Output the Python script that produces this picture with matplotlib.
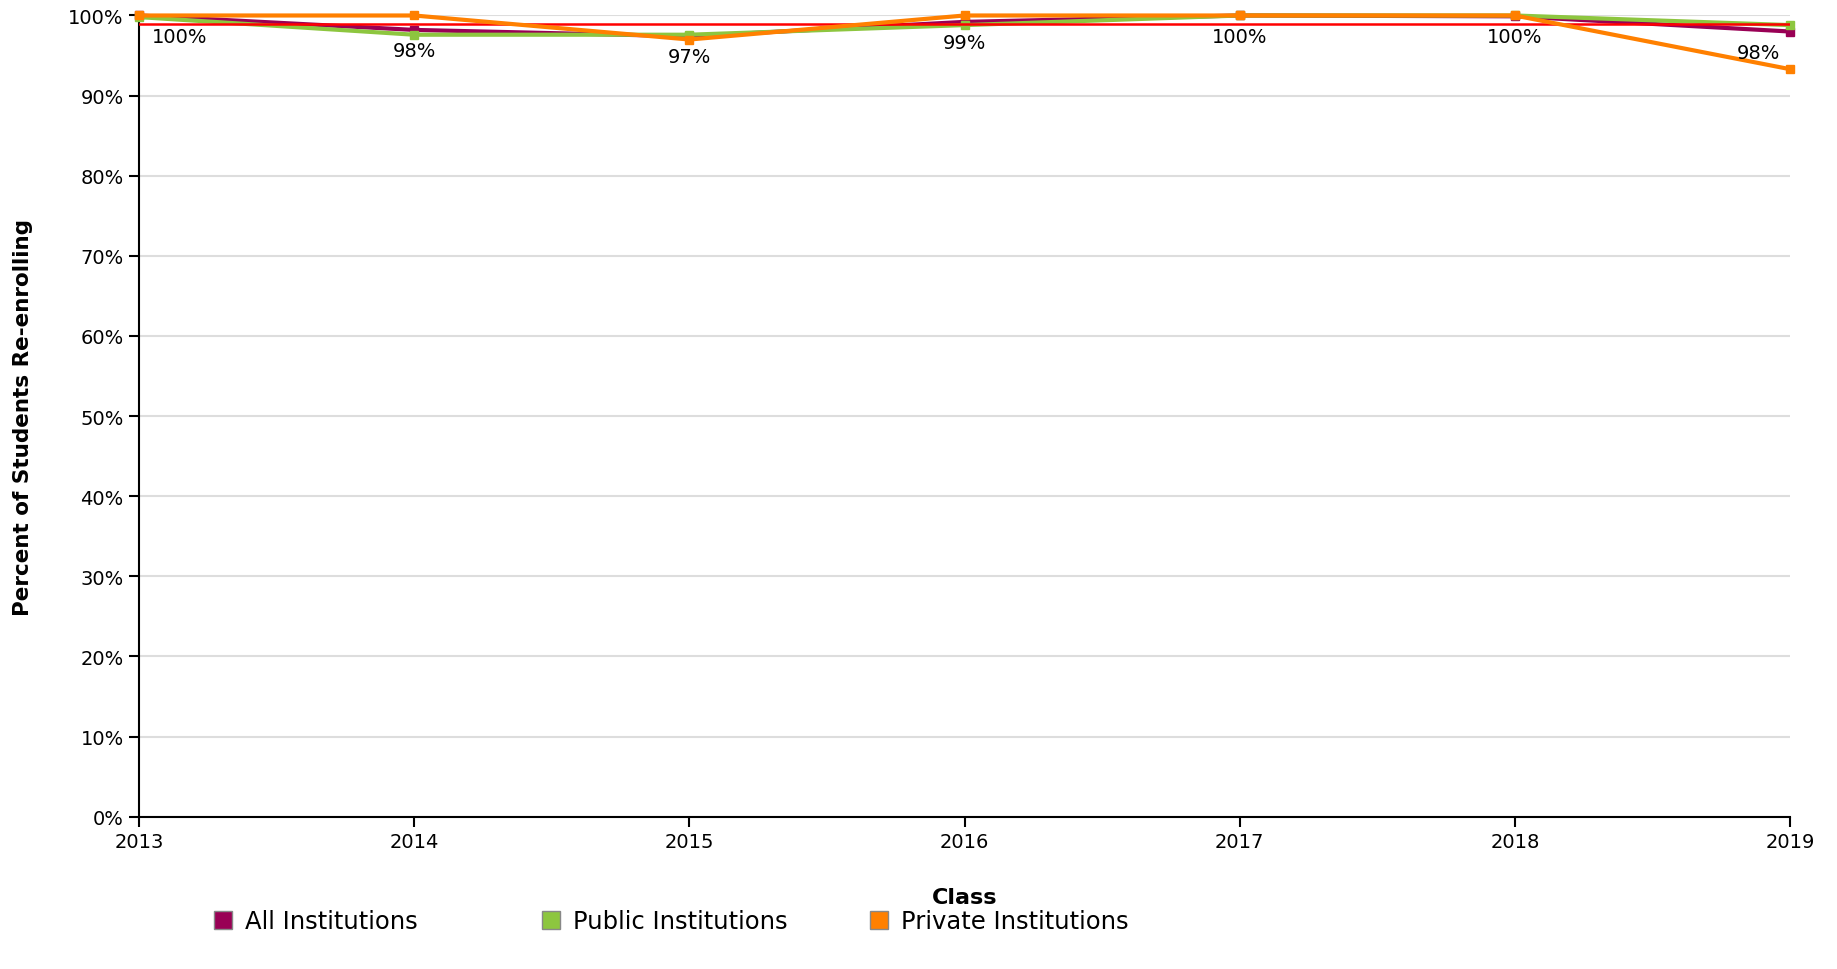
import matplotlib
matplotlib.use("Agg")
import matplotlib.pyplot as plt
from matplotlib.patches import Rectangle

# chart data
years = [2013, 2014, 2015, 2016, 2017, 2018, 2019]
all_inst = [100.0, 98.2, 97.4, 99.2, 100.0, 99.9, 98.0]
public_inst = [99.8, 97.6, 97.6, 98.8, 100.0, 100.0, 98.8]
private_inst = [100.0, 100.0, 97.0, 100.0, 100.0, 100.0, 93.3]
target = 99.0
point_labels = ["100%", "98%", "97%", "99%", "100%", "100%", "98%"]
legend_names = ["All Institutions", "Public Institutions", "Private Institutions"]

c_all = "#990055"
c_pub = "#8dc63f"
c_priv = "#ff8000"

fig = plt.figure(figsize=(18.37, 9.70), dpi=100)
ax = fig.add_axes([0.0757, 0.157, 0.8987, 0.826])

ax.plot(years, all_inst, color=c_all, lw=3, marker="s", ms=6, clip_on=False, zorder=3)
ax.plot(years, public_inst, color=c_pub, lw=3, marker="s", ms=6, clip_on=False, zorder=3)
ax.axhline(target, color="#ff0000", lw=1.8, zorder=4)
ax.plot(years, private_inst, color=c_priv, lw=3, marker="s", ms=6, clip_on=False, zorder=5)

# value labels under the all-institutions line
for i, (x, y, t) in enumerate(zip(years, all_inst, point_labels)):
    ha = "center"
    dx = 0
    if i == 0:
        ha, dx = "left", 9
    elif i == len(years) - 1:
        ha, dx = "right", -7
    ax.annotate(t, (x, y), xytext=(dx, -8), textcoords="offset points",
                ha=ha, va="top", fontsize=14, zorder=6)

ax.set_xlim(2013, 2019)
ax.set_ylim(0, 100)
ax.set_xticks(years)
ax.set_xticklabels([str(y) for y in years])
ax.set_yticks(range(0, 101, 10))
ax.set_yticklabels([f"{v}%" for v in range(0, 101, 10)])
ax.yaxis.grid(True, color="#dddddd", lw=1.5)
ax.set_axisbelow(True)
for s in ["top", "right"]:
    ax.spines[s].set_visible(False)
for s in ["left", "bottom"]:
    ax.spines[s].set_linewidth(1.5)
ax.tick_params(axis="both", length=7, width=1.5, labelsize=14, pad=4)

ax.set_xlabel("Class", fontsize=16, fontweight="bold", va="center")
ax.xaxis.set_label_coords(0.5, -0.1)
ax.set_ylabel("Percent of Students Re-enrolling", fontsize=15.5, fontweight="bold", va="center")
ax.yaxis.set_label_coords(-0.0703, 0.5)

# legend drawn by hand to match the spacing
leg_x = [214, 542, 870]
leg_cols = [c_all, c_pub, c_priv]
for x, col, name in zip(leg_x, leg_cols, legend_names):
    fig.add_artist(Rectangle((x / 1837, 1 - 930 / 970), 18 / 1837, 18 / 970,
                             transform=fig.transFigure, facecolor=col,
                             edgecolor="#888888", lw=1))
    fig.text((x + 31) / 1837, 1 - 922 / 970, name, fontsize=17.5, va="center", ha="left")

fig.savefig("out.png", dpi=100)
